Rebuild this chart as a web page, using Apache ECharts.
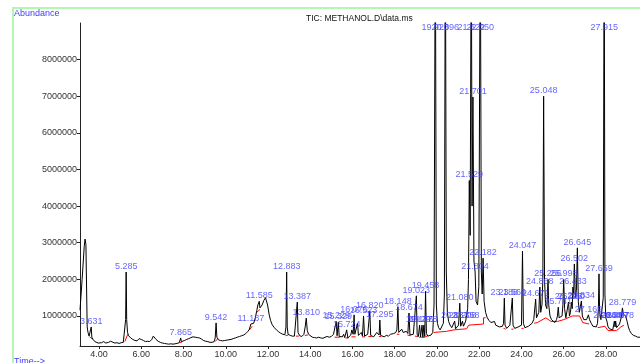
<!DOCTYPE html>
<html><head><meta charset="utf-8">
<script src="https://cdn.jsdelivr.net/npm/echarts@6/dist/echarts.min.js"></script>
<style>html,body{margin:0;padding:0;background:#fff}#c{width:640px;height:363px}</style>
</head><body><div id="c"></div>
<script>
// Total ion chromatogram: [retention time (min), abundance]
const ticTrace = [
[3.10,1160000],[3.20,2000000],[3.30,2900000],[3.34,3100000],[3.38,2950000],[3.41,2900000],[3.44,700000],[3.48,550000],[3.53,450000],[3.58,500000],[3.631,700000],[3.66,420000],[3.72,360000],[3.80,300000],[3.88,270000],[3.96,260000],[4.05,300000],[4.12,270000],[4.22,300000],[4.32,260000],[4.45,280000],[4.55,310000],[4.62,270000],[4.75,260000],[4.85,270000],[4.95,250000],[5.05,270000],[5.15,280000],[5.22,300000],[5.26,900000],[5.285,2200000],[5.31,900000],[5.35,550000],[5.40,460000],[5.50,400000],[5.60,360000],[5.70,330000],[5.80,320000],[5.90,380000],[5.95,420000],[6.00,360000],[6.10,330000],[6.20,300000],[6.30,310000],[6.40,300000],[6.50,360000],[6.57,450000],[6.62,430000],[6.70,360000],[6.80,310000],[6.90,280000],[7.00,260000],[7.10,250000],[7.20,240000],[7.30,230000],[7.40,240000],[7.50,230000],[7.60,240000],[7.70,250000],[7.80,270000],[7.865,400000],[7.90,300000],[7.95,290000],[8.05,330000],[8.15,360000],[8.25,380000],[8.35,410000],[8.45,430000],[8.55,420000],[8.65,410000],[8.75,400000],[8.85,370000],[8.95,330000],[9.05,310000],[9.15,300000],[9.25,280000],[9.35,280000],[9.45,300000],[9.50,400000],[9.542,810000],[9.58,420000],[9.65,350000],[9.75,330000],[9.85,320000],[9.95,330000],[10.05,340000],[10.15,350000],[10.25,360000],[10.35,380000],[10.45,400000],[10.55,420000],[10.65,440000],[10.75,460000],[10.85,480000],[10.95,520000],[11.05,580000],[11.12,640000],[11.187,780000],[11.25,740000],[11.32,800000],[11.40,950000],[11.47,1150000],[11.52,1300000],[11.585,1400000],[11.62,1220000],[11.66,1180000],[11.72,1300000],[11.80,1420000],[11.88,1500000],[11.93,1480000],[11.98,1300000],[12.05,1050000],[12.12,880000],[12.20,760000],[12.30,680000],[12.40,620000],[12.50,570000],[12.60,530000],[12.70,500000],[12.80,490000],[12.85,700000],[12.883,2200000],[12.91,700000],[12.95,500000],[13.05,470000],[13.15,450000],[13.25,450000],[13.33,500000],[13.387,1380000],[13.42,550000],[13.50,460000],[13.60,440000],[13.70,500000],[13.76,700000],[13.810,940000],[13.86,600000],[13.92,500000],[14.00,450000],[14.10,420000],[14.20,410000],[14.30,400000],[14.40,420000],[14.50,400000],[14.60,390000],[14.70,420000],[14.80,440000],[14.90,420000],[15.00,440000],[15.10,500000],[15.18,450000],[15.229,850000],[15.27,460000],[15.329,830000],[15.37,440000],[15.45,420000],[15.52,430000],[15.58,500000],[15.63,410000],[15.68,400000],[15.724,620000],[15.78,400000],[15.85,410000],[15.92,480000],[15.97,620000],[16.03,500000],[16.076,1030000],[16.11,500000],[16.18,460000],[16.24,800000],[16.28,470000],[16.35,440000],[16.42,550000],[16.47,450000],[16.523,1000000],[16.57,450000],[16.65,440000],[16.72,500000],[16.78,550000],[16.820,1130000],[16.86,470000],[16.93,440000],[17.00,430000],[17.08,460000],[17.15,550000],[17.22,600000],[17.26,480000],[17.295,890000],[17.33,470000],[17.40,440000],[17.50,430000],[17.60,470000],[17.70,450000],[17.80,500000],[17.88,550000],[17.95,520000],[18.05,550000],[18.10,620000],[18.148,1250000],[18.19,550000],[18.25,530000],[18.33,640000],[18.40,550000],[18.47,520000],[18.55,580000],[18.62,520000],[18.674,1080000],[18.72,480000],[18.80,450000],[18.88,500000],[18.95,520000],[19.023,1550000],[19.06,500000],[19.12,440000],[19.176,750000],[19.22,430000],[19.26,450000],[19.291,750000],[19.33,420000],[19.378,750000],[19.42,440000],[19.458,1680000],[19.50,520000],[19.57,450000],[19.64,440000],[19.72,480000],[19.80,550000],[19.86,1300000],[19.920,12000000],[19.97,1300000],[20.02,800000],[20.08,680000],[20.15,620000],[20.22,600000],[20.30,800000],[20.35,1600000],[20.396,12000000],[20.44,2200000],[20.49,1100000],[20.55,850000],[20.62,750000],[20.70,680000],[20.78,720000],[20.837,860000],[20.88,650000],[20.95,620000],[21.02,750000],[21.080,1350000],[21.12,720000],[21.17,700000],[21.208,860000],[21.25,720000],[21.30,780000],[21.358,860000],[21.40,850000],[21.45,1200000],[21.49,2000000],[21.529,4700000],[21.57,3200000],[21.622,12000000],[21.66,4000000],[21.701,6980000],[21.75,2500000],[21.804,2200000],[21.85,1400000],[21.92,1300000],[21.98,1800000],[22.050,12000000],[22.10,2200000],[22.14,1600000],[22.182,2580000],[22.23,1400000],[22.30,1100000],[22.38,950000],[22.46,880000],[22.55,820000],[22.64,780000],[22.72,850000],[22.78,750000],[22.86,720000],[22.95,700000],[23.03,680000],[23.10,720000],[23.15,800000],[23.188,1490000],[23.22,750000],[23.30,660000],[23.38,680000],[23.45,750000],[23.52,800000],[23.566,1490000],[23.60,750000],[23.68,660000],[23.76,640000],[23.84,700000],[23.92,660000],[24.00,750000],[24.047,2770000],[24.09,800000],[24.16,680000],[24.25,650000],[24.33,720000],[24.42,700000],[24.50,800000],[24.58,900000],[24.63,850000],[24.671,1460000],[24.71,950000],[24.77,900000],[24.82,1100000],[24.868,1790000],[24.91,1100000],[24.97,1300000],[25.01,2000000],[25.048,7000000],[25.09,2000000],[25.14,1300000],[25.20,1200000],[25.256,2000000],[25.29,1300000],[25.35,1000000],[25.42,900000],[25.50,850000],[25.58,820000],[25.66,900000],[25.70,1000000],[25.741,1240000],[25.78,950000],[25.85,900000],[25.92,1000000],[25.96,1300000],[25.998,2000000],[26.04,1200000],[26.10,950000],[26.17,1000000],[26.226,1380000],[26.27,1000000],[26.32,1100000],[26.360,1380000],[26.40,1200000],[26.433,1790000],[26.47,1600000],[26.502,2420000],[26.55,1500000],[26.60,1700000],[26.645,2860000],[26.69,1400000],[26.74,1100000],[26.79,1050000],[26.834,1410000],[26.88,1000000],[26.95,900000],[27.02,850000],[27.08,900000],[27.12,950000],[27.169,1030000],[27.22,900000],[27.30,800000],[27.38,720000],[27.46,680000],[27.54,700000],[27.60,800000],[27.64,1200000],[27.669,2150000],[27.70,1100000],[27.76,900000],[27.82,850000],[27.87,1500000],[27.915,12000000],[27.95,1600000],[27.99,950000],[28.044,860000],[28.09,720000],[28.16,650000],[28.24,600000],[28.32,620000],[28.397,860000],[28.43,700000],[28.457,860000],[28.50,680000],[28.58,700000],[28.64,780000],[28.678,860000],[28.72,950000],[28.779,1220000],[28.82,1050000],[28.88,1100000],[28.93,1000000],[29.00,850000],[29.06,700000],[29.12,600000],[29.20,520000],[29.30,470000],[29.40,450000],[29.50,420000],[29.61,420000]
];

// Integrated peak labels (retention time) and apex abundance
const peakTimes = [3.631,5.285,7.865,9.542,11.187,11.585,12.883,13.387,13.810,15.229,15.329,15.724,16.076,16.523,16.820,17.295,18.148,18.674,19.023,19.176,19.291,19.378,19.458,19.920,20.396,20.837,21.080,21.208,21.358,21.529,21.622,21.701,21.804,22.050,22.182,23.188,23.566,24.047,24.671,24.868,25.048,25.256,25.741,25.998,26.226,26.360,26.433,26.502,26.645,26.834,27.169,27.669,27.915,28.044,28.397,28.457,28.678,28.779];
const peakApex = [700000,2200000,400000,810000,780000,1400000,2200000,1380000,940000,850000,830000,620000,1030000,1000000,1130000,890000,1250000,1080000,1550000,750000,750000,750000,1680000,12000000,12000000,860000,1350000,860000,860000,4700000,12000000,6980000,2200000,12000000,2580000,1490000,1490000,2770000,1460000,1790000,7000000,2000000,1240000,2000000,1380000,1380000,1790000,2420000,2860000,1410000,1030000,2150000,12000000,860000,860000,860000,860000,1220000];

// Red integration baselines (segments)
const integrationBaselines = [
[[3.55,430000],[3.72,360000]],
[[5.22,300000],[5.36,500000]],
[[7.82,270000],[7.93,290000]],
[[9.50,300000],[9.62,380000]],
[[11.12,620000],[11.25,720000]],
[[11.47,1100000],[11.62,1180000]],
[[12.82,460000],[12.96,480000]],
[[13.32,450000],[13.46,450000]],
[[13.74,470000],[13.90,480000]],
[[15.15,420000],[15.40,420000]],
[[15.66,400000],[15.80,400000]],
[[15.95,430000],[16.15,430000]],
[[16.45,430000],[16.60,430000]],
[[16.75,440000],[16.90,440000]],
[[17.25,440000],[17.35,440000]],
[[18.10,500000],[18.22,500000]],
[[18.60,480000],[18.75,460000]],
[[18.95,450000],[19.10,440000]],
[[19.15,420000],[19.45,420000]],
[[19.45,440000],[19.55,450000]],
[[19.85,550000],[20.45,580000],[20.80,620000],[21.40,650000],[21.50,750000],[22.20,780000],[22.20,950000],[22.30,950000]],
[[23.15,660000],[23.25,640000]],
[[23.52,640000],[23.62,640000]],
[[24.00,660000],[24.10,660000]],
[[24.60,800000],[24.75,820000],[25.15,950000],[25.40,850000],[25.70,850000],[26.00,900000],[26.40,1000000],[26.75,1000000],[26.90,820000],[27.20,780000]],
[[27.60,680000],[27.95,720000],[28.10,600000],[28.50,600000],[28.70,700000],[28.85,750000]]
];

const yTicks = [1000000,2000000,3000000,4000000,5000000,6000000,7000000,8000000];
const xTicks = [4,6,8,10,12,14,16,18,20,22,24,26,28];
const yMin = 180000, yMax = 9000000, xMin = 3.10, xMax = 29.61;

const chart = echarts.init(document.getElementById('c'), null, {renderer:'canvas'});
const FONT = 'Liberation Sans';
const labelData = peakTimes.map((t,i)=>{
  const clipped = peakApex[i] > yMax;
  return {
    value:[t, clipped ? yMax : peakApex[i]],
    label:{position: clipped ? 'bottom' : 'top', distance: clipped ? 0 : 1}
  };
});
chart.setOption({
  animation:false,
  grid:{left:80, right:0, top:23, bottom:17, containLabel:false},
  xAxis:{type:'value', min:xMin, max:xMax,
    axisLine:{lineStyle:{color:'#222', width:1}},
    axisTick:{customValues:xTicks, length:3, lineStyle:{color:'#222'}},
    axisLabel:{customValues:xTicks, formatter:v=>v.toFixed(2), fontSize:9, fontFamily:FONT, color:'#333', margin:4},
    splitLine:{show:false}},
  yAxis:{type:'value', min:yMin, max:yMax,
    axisLine:{show:true, lineStyle:{color:'#222', width:1}},
    axisTick:{show:true, customValues:yTicks, length:3, lineStyle:{color:'#222'}},
    axisLabel:{customValues:yTicks, fontSize:9, fontFamily:FONT, color:'#333', margin:3, formatter:v=>String(v)},
    splitLine:{show:false}},
  series:[
    {type:'lines', coordinateSystem:'cartesian2d', polyline:true, z:1, silent:true,
      lineStyle:{color:'#ff0000', width:1, opacity:1},
      data: integrationBaselines.map(s=>({coords:s}))},
    {type:'line', data:ticTrace, z:2, showSymbol:false, symbol:'none', sampling:null,
      lineStyle:{color:'#000', width:1}, clip:true},
    {type:'scatter', data:labelData, symbolSize:0, z:3, clip:false, silent:true,
      label:{show:true, formatter:p=>p.value[0].toFixed(3), color:'#4040ff', fontSize:9, fontFamily:FONT}}
  ],
  graphic:[
    {type:'rect', shape:{x:13, y:8, width:700, height:400}, style:{fill:'none', stroke:'#b4f5b4', lineWidth:2}, silent:true},
    {type:'text', x:14, y:14, style:{text:'Abundance', font:'9px '+FONT, fill:'#3c3cff', textVerticalAlign:'middle'}},
    {type:'text', x:306, y:19, style:{text:'TIC: METHANOL.D\\data.ms', font:'8.5px '+FONT, fill:'#111', textVerticalAlign:'middle'}},
    {type:'text', x:14, y:357, style:{text:'Time-->', font:'9px '+FONT, fill:'#3c3cff', textVerticalAlign:'top'}}
  ]
});
</script></body></html>
